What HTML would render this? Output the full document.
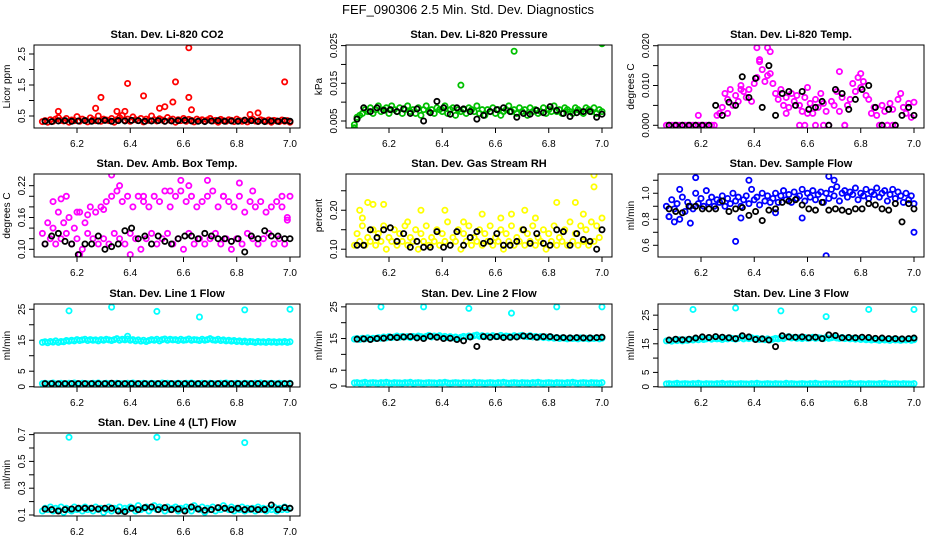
<!DOCTYPE html>
<html><head><meta charset="utf-8"><style>
html,body{margin:0;padding:0;background:#fff}
svg{display:block}
text{font-family:"Liberation Sans",sans-serif;fill:#000}
</style></head><body>
<svg id="chart" width="936" height="540" viewBox="0 0 936 540" xmlns="http://www.w3.org/2000/svg">
<rect x="0" y="0" width="936" height="540" fill="#fff"/>
<text x="468" y="14" text-anchor="middle" font-size="13">FEF_090306  2.5 Min. Std. Dev. Diagnostics</text>
</svg>
<script>
const tx=[6.07,6.08,6.09,6.10,6.11,6.12,6.13,6.14,6.15,6.16,6.17,6.18,6.19,6.20,6.21,6.22,6.23,6.24,6.25,6.26,6.27,6.28,6.29,6.30,6.31,6.32,6.33,6.34,6.35,6.36,6.37,6.38,6.39,6.40,6.41,6.42,6.43,6.44,6.45,6.46,6.47,6.48,6.49,6.50,6.51,6.52,6.53,6.54,6.55,6.56,6.57,6.58,6.59,6.60,6.61,6.62,6.63,6.64,6.65,6.66,6.67,6.68,6.69,6.70,6.71,6.72,6.73,6.74,6.75,6.76,6.77,6.78,6.79,6.80,6.81,6.82,6.83,6.84,6.85,6.86,6.87,6.88,6.89,6.90,6.91,6.92,6.93,6.94,6.95,6.96,6.97,6.98,6.99,7.00];
const bx=[6.08,6.105,6.13,6.155,6.18,6.205,6.23,6.255,6.28,6.305,6.33,6.355,6.38,6.405,6.43,6.455,6.48,6.505,6.53,6.555,6.58,6.605,6.63,6.655,6.68,6.705,6.73,6.755,6.78,6.805,6.83,6.855,6.88,6.905,6.93,6.955,6.98,7.0];
const xTicks=[6.2,6.4,6.6,6.8,7.0];
const xTickLabels=["6.2","6.4","6.6","6.8","7.0"];

// P1 CO2
const co2Main=[0.32,0.35,0.3,0.38,0.33,0.4,0.45,0.36,0.34,0.42,0.3,0.37,0.35,0.48,0.33,0.4,0.36,0.31,0.44,0.38,0.35,0.5,0.33,0.4,0.37,0.35,0.42,0.3,0.38,0.45,0.52,0.36,0.4,0.33,0.47,0.38,0.35,0.42,0.31,0.4,0.36,0.5,0.38,0.34,0.41,0.37,0.33,0.45,0.36,0.4,0.3,0.38,0.35,0.42,0.33,0.39,0.36,0.31,0.4,0.35,0.38,0.33,0.37,0.42,0.34,0.36,0.3,0.39,0.35,0.33,0.38,0.36,0.32,0.4,0.35,0.33,0.37,0.31,0.36,0.4,0.34,0.32,0.38,0.35,0.33,0.37,0.3,0.36,0.34,0.32,0.37,0.33,0.35,0.3];
const co2OutX=[6.13,6.27,6.29,6.35,6.38,6.39,6.45,6.51,6.53,6.56,6.57,6.62,6.62,6.63,6.85,6.88,6.98];
const co2OutY=[0.65,0.75,1.1,0.65,0.65,1.55,1.15,0.75,0.8,0.95,1.6,1.1,2.7,0.7,0.55,0.6,1.6];
const co2Black=[0.33,0.32,0.34,0.35,0.33,0.34,0.35,0.33,0.34,0.36,0.33,0.35,0.34,0.36,0.35,0.33,0.34,0.35,0.33,0.34,0.35,0.36,0.34,0.33,0.32,0.34,0.35,0.33,0.34,0.33,0.36,0.35,0.33,0.32,0.34,0.33,0.35,0.33];
// P2 pressure
const presMain=[0.004,0.006,0.0065,0.007,0.008,0.0075,0.0085,0.007,0.008,0.009,0.0075,0.008,0.0085,0.007,0.009,0.008,0.0075,0.0085,0.007,0.008,0.009,0.0075,0.008,0.007,0.0085,0.0065,0.008,0.009,0.0075,0.008,0.007,0.0085,0.008,0.0075,0.009,0.007,0.008,0.0085,0.0065,0.008,0.0075,0.008,0.007,0.0085,0.008,0.0075,0.009,0.007,0.008,0.0065,0.008,0.0075,0.0085,0.007,0.008,0.0065,0.0075,0.008,0.009,0.0075,0.008,0.007,0.0085,0.0075,0.008,0.0065,0.0085,0.0075,0.008,0.007,0.0075,0.0085,0.007,0.008,0.0075,0.009,0.0075,0.008,0.007,0.0085,0.008,0.0075,0.007,0.0085,0.008,0.0075,0.007,0.0085,0.008,0.0075,0.0085,0.007,0.008,0.0075];
const presOutX=[6.07,6.33,6.47,6.67,7.0];
const presOutY=[0.0032,0.026,0.0145,0.0235,0.0255];
const presBlack=[0.0055,0.0085,0.0075,0.0085,0.0078,0.008,0.0075,0.0082,0.007,0.0082,0.005,0.0072,0.0102,0.0085,0.0068,0.0085,0.0082,0.0075,0.0055,0.0065,0.0075,0.008,0.0085,0.0075,0.006,0.007,0.0068,0.0078,0.0072,0.0088,0.0078,0.007,0.0062,0.0072,0.0075,0.0075,0.006,0.0068];
// P3 Li-820 temp
const tempMain=[0,0,0,0,0,0,0,0,0,0,0,0,0,0,0,0,0,0,0,0.0025,0.003,0.0045,0.008,0.0065,0.009,0.005,0.0075,0.006,0.01,0.0085,0.007,0.009,0.006,0.0105,0.012,0.016,0.014,0.011,0.0125,0.013,0.0105,0.008,0.0065,0.009,0.005,0.007,0.0045,0.008,0.006,0.0075,0.005,0.0035,0.007,0.0095,0.0055,0.003,0.0065,0.0045,0.008,0.0055,0.0035,0,0.006,0.005,0.0085,0.0035,0.007,0,0.005,0.0065,0.0105,0.0085,0.012,0.0095,0.011,0.0075,0.0065,0.003,0.0045,0.0025,0,0.005,0.0035,0,0.0055,0.004,0,0.0065,0.008,0.0045,0.003,0.0055,0.002,0.0058];
const tempOutX=[6.19,6.41,6.42,6.45,6.46,6.72,6.63,6.57,6.59,6.66,6.74,6.88,6.9,6.92,6.3,6.35,6.52,6.6,6.8];
const tempOutY=[0.0025,0.0195,0.0165,0.0195,0.0185,0.0135,0,0,0,0,0,0,0,0,0.003,0.009,0.003,0.003,0.013];
const tempBlack=[0,0,0,0,0,0,0,0.005,0.0025,0.0058,0.005,0.0122,0.007,0.0118,0.0045,0.015,0.0025,0.008,0.0085,0.005,0.0085,0.004,0.0045,0.006,0,0.009,0.008,0.004,0.0065,0.009,0.01,0.0045,0,0.004,0,0.0025,0.0045,0.0025];
// P4 amb box temp
const ambMain=[0.13,0.11,0.15,0.12,0.14,0.11,0.17,0.12,0.15,0.13,0.16,0.11,0.14,0.12,0.17,0.10,0.15,0.13,0.18,0.12,0.17,0.11,0.18,0.12,0.19,0.11,0.2,0.13,0.21,0.12,0.19,0.11,0.2,0.13,0.18,0.12,0.2,0.10,0.19,0.12,0.18,0.13,0.2,0.11,0.19,0.12,0.21,0.13,0.18,0.11,0.2,0.12,0.21,0.1,0.19,0.13,0.2,0.11,0.18,0.12,0.19,0.11,0.2,0.12,0.21,0.13,0.18,0.11,0.2,0.12,0.19,0.1,0.18,0.12,0.2,0.11,0.17,0.13,0.19,0.12,0.18,0.11,0.19,0.12,0.17,0.13,0.18,0.11,0.19,0.12,0.18,0.11,0.16,0.2];
const ambOutX=[6.11,6.14,6.16,6.2,6.33,6.59,6.69,6.81,6.97,6.99,6.21,6.40,6.36,6.45,6.55,6.62,6.75,6.86,6.24,6.3];
const ambOutY=[0.19,0.195,0.2,0.17,0.24,0.23,0.23,0.225,0.2,0.155,0.09,0.09,0.22,0.2,0.21,0.22,0.2,0.21,0.165,0.175];
const ambBlack=[0.11,0.125,0.13,0.115,0.11,0.09,0.11,0.11,0.125,0.1,0.105,0.11,0.135,0.14,0.12,0.125,0.11,0.125,0.115,0.11,0.12,0.125,0.125,0.12,0.13,0.125,0.12,0.12,0.115,0.12,0.095,0.125,0.12,0.135,0.125,0.125,0.12,0.12];
// P5 RH
const rhMain=[0.11,0.14,0.12,0.16,0.11,0.13,0.12,0.15,0.11,0.14,0.12,0.16,0.10,0.13,0.12,0.15,0.11,0.14,0.12,0.16,0.11,0.13,0.12,0.15,0.10,0.14,0.12,0.16,0.11,0.13,0.12,0.15,0.11,0.14,0.12,0.17,0.11,0.13,0.12,0.15,0.10,0.14,0.12,0.16,0.11,0.13,0.12,0.15,0.11,0.14,0.12,0.16,0.11,0.13,0.12,0.15,0.10,0.14,0.12,0.16,0.11,0.13,0.12,0.15,0.11,0.14,0.12,0.16,0.11,0.13,0.12,0.15,0.10,0.14,0.12,0.16,0.11,0.13,0.12,0.15,0.11,0.17,0.12,0.14,0.11,0.16,0.12,0.15,0.11,0.17,0.12,0.16,0.13,0.18];
const rhOutX=[6.09,6.12,6.14,6.18,6.32,6.41,6.55,6.62,6.66,6.71,6.83,6.90,6.97,6.97,6.1,6.27,6.48,6.75,6.93];
const rhOutY=[0.2,0.22,0.215,0.215,0.2,0.2,0.19,0.18,0.19,0.2,0.22,0.22,0.29,0.26,0.18,0.17,0.17,0.18,0.19];
const rhBlack=[0.11,0.11,0.15,0.13,0.15,0.155,0.12,0.14,0.105,0.12,0.105,0.105,0.145,0.105,0.11,0.145,0.11,0.13,0.145,0.115,0.12,0.14,0.11,0.11,0.12,0.15,0.115,0.14,0.115,0.11,0.15,0.145,0.11,0.14,0.125,0.12,0.1,0.15];
// P6 sample flow
const flowMain=[0.9,0.82,0.95,0.88,0.92,0.8,0.97,0.86,0.93,0.9,0.88,1.0,0.92,0.96,0.9,1.02,0.93,0.97,0.9,0.95,0.93,0.98,0.9,0.96,0.92,1.0,0.94,0.97,0.9,0.95,0.98,0.92,1.03,0.95,0.97,0.91,1.0,0.94,0.98,0.93,0.96,1.0,0.93,0.98,1.02,0.95,0.99,0.93,1.01,0.96,0.98,1.03,0.94,1.0,0.97,1.02,0.95,0.99,1.01,0.93,1.0,0.96,1.03,0.98,1.05,0.94,1.0,1.02,0.97,1.01,0.99,1.04,0.95,1.0,0.98,1.03,0.96,1.01,0.99,1.04,0.97,1.0,1.02,0.94,0.99,1.03,0.96,1.01,0.98,0.93,1.0,0.95,0.98,0.92];
const flowOutX=[6.1,6.18,6.33,6.38,6.67,6.68,6.7,7.0,6.16,6.58,6.08,6.12,6.35,6.48];
const flowOutY=[0.78,1.12,0.63,1.1,0.52,1.13,1.1,0.7,0.77,0.81,0.82,1.03,0.81,0.85];
const flowBlack=[0.88,0.86,0.85,0.9,0.9,0.88,0.88,0.88,0.94,0.86,0.88,0.89,0.83,0.86,0.79,0.87,0.88,0.93,0.94,0.95,0.91,0.88,0.87,0.93,0.87,0.88,0.87,0.86,0.88,0.88,0.92,0.91,0.88,0.87,0.92,0.78,0.92,0.88];
// P7 line 1
const l1Upper=[14.3,14.5,14.2,14.6,14.4,14.8,14.3,14.6,14.5,14.9,14.7,15.0,14.8,15.2,14.9,15.1,15.3,14.9,15.2,15.0,15.1,14.8,15.2,15.0,15.3,15.1,14.9,15.2,15.5,15.0,15.3,15.1,15.4,15.0,15.2,14.8,15.1,14.7,15.0,14.6,14.9,15.2,15.0,15.3,14.8,15.2,15.4,15.0,15.3,15.1,15.2,14.9,15.3,15.0,15.1,15.4,15.0,15.2,15.1,14.9,15.3,15.0,15.2,15.5,15.1,15.0,15.3,14.9,15.1,14.8,15.0,14.7,14.9,14.6,14.8,14.5,14.7,14.4,14.6,14.5,14.3,14.6,14.4,14.5,14.3,14.6,14.4,14.5,14.3,14.5,14.4,14.6,14.3,14.5];
const l1Lower=[1.0,1.1,0.9,1.0,1.2,0.9,1.0,1.1,1.0,0.9,1.1,1.0,1.2,1.0,0.9,1.1,1.0,1.0,0.9,1.1,1.0,1.2,0.9,1.0,1.1,1.0,0.9,1.0,1.1,1.0,1.0,0.9,1.1,1.0,1.2,1.0,0.9,1.0,1.1,1.0,0.9,1.1,1.0,1.0,0.9,1.2,1.0,1.1,1.0,0.9,1.0,1.1,1.0,0.9,1.1,1.0,1.2,1.0,0.9,1.0,1.1,1.0,0.9,1.1,1.0,1.0,0.9,1.1,1.0,1.2,1.0,0.9,1.0,1.1,1.0,0.9,1.1,1.0,1.0,0.9,1.1,1.0,1.2,1.0,0.9,1.0,1.1,1.0,0.9,1.1,1.0,1.0,0.9,1.1];
const l1OutX=[6.17,6.33,6.5,6.66,6.83,7.0,6.39];
const l1OutY=[24.5,25.7,24.3,22.5,24.8,25,16.3];
const l1Black=[1.0,1.0,0.9,1.0,1.0,1.0,1.0,1.0,1.0,1.0,1.1,1.0,1.0,1.0,1.0,1.0,1.0,1.0,1.0,1.0,1.0,1.0,1.0,1.0,1.0,1.0,1.0,1.0,1.0,1.0,1.0,1.0,1.0,1.0,1.0,0.9,1.0,1.0];
// P8 line 2
const l2Upper=[14.8,15.0,14.7,15.1,14.9,15.2,14.8,15.1,15.0,15.3,15.1,15.5,15.2,15.6,15.3,15.5,15.8,15.4,15.7,15.5,15.6,15.3,15.7,15.5,15.8,15.6,15.4,15.7,16.0,15.5,15.8,15.6,15.9,15.5,15.7,15.3,15.6,15.2,15.5,15.1,15.4,15.7,15.5,15.8,15.6,15.9,16.1,15.7,15.9,15.6,15.8,15.5,15.9,15.6,15.7,16.0,15.6,15.8,15.7,15.5,15.9,15.6,15.8,16.0,15.7,15.6,15.9,15.5,15.7,15.4,15.6,15.3,15.5,15.2,15.4,15.1,15.3,15.0,15.2,15.1,14.9,15.2,15.0,15.1,14.9,15.2,15.0,15.1,14.9,15.1,15.0,15.2,14.9,15.1];
const l2Lower=[1.0,1.1,0.9,1.0,1.2,0.9,1.0,1.1,1.0,0.9,1.1,1.0,1.2,1.0,0.9,1.1,1.0,1.0,0.9,1.1,1.0,1.2,0.9,1.0,1.1,1.0,0.9,1.0,1.1,1.0,1.0,0.9,1.1,1.0,1.2,1.0,0.9,1.0,1.1,1.0,0.9,1.1,1.0,1.0,0.9,1.2,1.0,1.1,1.0,0.9,1.0,1.1,1.0,0.9,1.1,1.0,1.2,1.0,0.9,1.0,1.1,1.0,0.9,1.1,1.0,1.0,0.9,1.1,1.0,1.2,1.0,0.9,1.0,1.1,1.0,0.9,1.1,1.0,1.0,0.9,1.1,1.0,1.2,1.0,0.9,1.0,1.1,1.0,0.9,1.1,1.0,1.0,0.9,1.1];
const l2OutX=[6.17,6.33,6.5,6.66,6.83,7.0];
const l2OutY=[25,25,24.5,23,25,25];
const l2Black=[14.8,14.9,14.7,15.0,15.1,15.4,15.3,15.5,15.6,15.2,15.0,15.7,15.4,15.0,15.1,14.7,14.3,15.5,12.5,15.6,15.4,15.6,15.3,15.4,15.5,15.8,15.7,15.4,15.6,15.6,15.3,15.3,15.2,15.3,15.2,15.2,15.3,15.4];
// P9 line 3
const l3Upper=[16.0,16.2,15.9,16.3,16.1,16.4,16.0,16.3,16.2,16.5,16.3,16.7,16.4,16.8,16.5,16.7,17.0,16.6,16.9,16.7,16.8,16.5,16.9,16.7,17.0,16.8,16.6,16.9,17.2,16.7,17.0,16.8,17.1,16.7,16.9,16.5,16.8,16.4,16.7,16.3,16.6,16.9,16.7,17.0,16.8,17.3,17.5,17.0,17.2,16.9,17.1,16.8,17.2,16.9,17.0,17.3,16.9,17.1,17.0,16.8,17.2,16.9,17.1,17.3,17.0,16.9,17.2,16.8,17.0,16.7,16.9,16.6,16.8,16.5,16.7,16.4,16.6,16.3,16.5,16.4,16.2,16.5,16.3,16.4,16.2,16.5,16.3,16.4,16.2,16.4,16.3,16.5,16.2,16.4];
const l3Lower=[1.0,1.1,0.9,1.0,1.2,0.9,1.0,1.1,1.0,0.9,1.1,1.0,1.2,1.0,0.9,1.1,1.0,1.0,0.9,1.1,1.0,1.2,0.9,1.0,1.1,1.0,0.9,1.0,1.1,1.0,1.0,0.9,1.1,1.0,1.2,1.0,0.9,1.0,1.1,1.0,0.9,1.1,1.0,1.0,0.9,1.2,1.0,1.1,1.0,0.9,1.0,1.1,1.0,0.9,1.1,1.0,1.2,1.0,0.9,1.0,1.1,1.0,0.9,1.1,1.0,1.0,0.9,1.1,1.0,1.2,1.0,0.9,1.0,1.1,1.0,0.9,1.1,1.0,1.0,0.9,1.1,1.0,1.2,1.0,0.9,1.0,1.1,1.0,0.9,1.1,1.0,1.0,0.9,1.1];
const l3OutX=[6.17,6.33,6.5,6.67,6.83,7.0];
const l3OutY=[27,27.5,26.5,24.5,27,27];
const l3Black=[16.3,16.6,16.4,16.6,17.0,17.4,17.2,17.5,17.3,17.1,16.8,17.8,17.4,16.5,16.7,16.3,14.0,17.8,17.4,17.3,17.4,17.1,17.3,16.8,18.1,17.9,17.1,17.2,17.1,17.3,17.2,16.9,17.0,16.8,16.8,16.7,16.8,17.0];
// P10 line 4
const l4Main=[0.13,0.15,0.14,0.16,0.13,0.15,0.14,0.16,0.12,0.15,0.14,0.13,0.16,0.14,0.15,0.13,0.16,0.14,0.15,0.13,0.16,0.14,0.15,0.12,0.14,0.16,0.13,0.15,0.14,0.16,0.13,0.15,0.14,0.16,0.15,0.13,0.17,0.14,0.15,0.16,0.13,0.15,0.17,0.14,0.16,0.15,0.13,0.16,0.14,0.15,0.16,0.13,0.15,0.14,0.16,0.15,0.13,0.17,0.15,0.14,0.16,0.12,0.15,0.14,0.16,0.13,0.15,0.14,0.17,0.15,0.14,0.16,0.13,0.15,0.14,0.16,0.13,0.15,0.14,0.15,0.13,0.16,0.14,0.15,0.13,0.15,0.14,0.16,0.13,0.15,0.14,0.16,0.14,0.15];
const l4OutX=[6.17,6.5,6.83];
const l4OutY=[0.68,0.68,0.64];
const l4Black=[0.145,0.14,0.13,0.14,0.145,0.15,0.15,0.15,0.145,0.15,0.15,0.13,0.125,0.15,0.14,0.155,0.16,0.14,0.155,0.14,0.145,0.13,0.16,0.145,0.135,0.14,0.155,0.15,0.14,0.15,0.14,0.145,0.14,0.14,0.175,0.14,0.155,0.15];

const yTicks1=[0.5,1,1.5,2,2.5], yLab1=["0.5","","1.5","","2.5"];
const yTicks2=[0.005,0.01,0.015,0.02,0.025], yLab2=["0.005","","0.015","","0.025"];
const yTicks3=[0,0.005,0.01,0.015,0.02], yLab3=["0.000","","0.010","","0.020"];
const yTicks4=[0.1,0.12,0.14,0.16,0.18,0.2,0.22], yLab4=["0.10","","","0.16","","","0.22"];
const yTicks5=[0.1,0.15,0.2,0.25], yLab5=["0.10","","0.20",""];
const yTicks6=[0.6,0.7,0.8,0.9,1.0,1.1], yLab6=["0.6","","0.8","","1.0",""];
const yTicksL=[0,5,10,15,20,25], yLabL=["0","5","","15","","25"];
const yTicks10=[0.1,0.2,0.3,0.4,0.5,0.6,0.7], yLab10=["0.1","","0.3","","0.5","","0.7"];

const NS="http://www.w3.org/2000/svg";
const svg=document.getElementById('chart');
const colL=[34,346,658], rowT=[45,174,304,433], W=266, H=83;
const XMIN=6.0385, XMAX=7.0376;
function el(tag,attrs,parent){const e=document.createElementNS(NS,tag);for(const k in attrs)e.setAttribute(k,attrs[k]);(parent||svg).appendChild(e);return e;}

function panel(id,col,row,title,ytitle,ymin,ymax,yt,yl,series){
  const L=colL[col],T=rowT[row];
  const g=el('g',{});
  
  
  const sx=v=>L+(v-XMIN)/(XMAX-XMIN)*W;
  const sy=v=>T+H-(v-ymin)/(ymax-ymin)*H;
  const t=el('text',{x:L+W/2,y:T-7,'text-anchor':'middle','font-size':'11','font-weight':'bold'},g);
  t.textContent=title;
  
  
  const yt2=el('text',{transform:`translate(${L-24},${T+H/2}) rotate(-90)`,'text-anchor':'middle','font-size':'10'},g);
  yt2.textContent=ytitle;
  
  
  xTicks.forEach((v,i)=>{
    const x=sx(v);
    el('line',{x1:x,x2:x,y1:T+H,y2:T+H+5,stroke:'#000','stroke-width':1},g);
    const lt=el('text',{x:x,y:T+H+19,'text-anchor':'middle','font-size':'10'},g);
    lt.textContent=xTickLabels[i];
    
    
  });
  yt.forEach((v,i)=>{
    const y=sy(v);
    el('line',{x1:L-5,x2:L,y1:y,y2:y,stroke:'#000','stroke-width':1},g);
    if(yl[i]){
      const lt=el('text',{transform:`translate(${L-9},${y}) rotate(-90)`,'text-anchor':'middle','font-size':'10'},g);
      lt.textContent=yl[i];
      
      
    }
  });
  const clipId='c'+id;
  const cp=el('clipPath',{id:clipId},g);
  el('rect',{x:L,y:T,width:W,height:H},cp);
  const pg=el('g',{'clip-path':`url(#${clipId})`},g);
  series.forEach(s=>{
    const n=Math.min(s.x.length,s.y.length);
    for(let i=0;i<n;i++){
      const c=el('circle',{cx:sx(s.x[i]),cy:sy(s.y[i]),r:2.6,fill:'none',stroke:s.c,'stroke-width':1.8},pg);
      
      
    }
  });
  const box=el('rect',{x:L,y:T,width:W,height:H,fill:'none',stroke:'#000','stroke-width':1},g);
  
  
}
const R='#ff0000',G='#00c000',M='#ff00ff',Y='#ffff00',B='#0000ff',C='#00ffff',K='#000';
panel('co2',0,0,'Stan. Dev. Li-820 CO2','Licor ppm',0.113,2.79,yTicks1,yLab1,[{x:tx,y:co2Main,c:R,n:'co2-point'},{x:co2OutX,y:co2OutY,c:R,n:'co2-point'},{x:bx,y:co2Black,c:K,n:'co2-avg-point'}]);
panel('pressure',1,0,'Stan. Dev. Li-820 Pressure','kPa',0.00314,0.02516,yTicks2,yLab2,[{x:tx,y:presMain,c:G,n:'pressure-point'},{x:presOutX,y:presOutY,c:G,n:'pressure-point'},{x:bx,y:presBlack,c:K,n:'pressure-avg-point'}]);
panel('li820temp',2,0,'Stan. Dev. Li-820 Temp.','degrees C',-0.00068,0.02018,yTicks3,yLab3,[{x:tx,y:tempMain,c:M,n:'temp-point'},{x:tempOutX,y:tempOutY,c:M,n:'temp-point'},{x:bx,y:tempBlack,c:K,n:'temp-avg-point'}]);
panel('ambbox',0,1,'Stan. Dev. Amb. Box Temp.','degrees C',0.0855,0.242,yTicks4,yLab4,[{x:tx,y:ambMain,c:M,n:'amb-point'},{x:ambOutX,y:ambOutY,c:M,n:'amb-point'},{x:bx,y:ambBlack,c:K,n:'amb-avg-point'}]);
panel('rh',1,1,'Stan. Dev. Gas Stream RH','percent',0.080,0.293,yTicks5,yLab5,[{x:tx,y:rhMain,c:Y,n:'rh-point'},{x:rhOutX,y:rhOutY,c:Y,n:'rh-point'},{x:bx,y:rhBlack,c:K,n:'rh-avg-point'}]);
panel('sampleflow',2,1,'Stan. Dev. Sample Flow','ml/min',0.51,1.148,yTicks6,yLab6,[{x:tx,y:flowMain,c:B,n:'flow-point'},{x:flowOutX,y:flowOutY,c:B,n:'flow-point'},{x:bx,y:flowBlack,c:K,n:'flow-avg-point'}]);
panel('line1',0,2,'Stan. Dev. Line 1 Flow','ml/min',-0.1,26.7,yTicksL,yLabL,[{x:tx,y:l1Upper,c:C,n:'line1-point'},{x:tx,y:l1Lower,c:C,n:'line1-point'},{x:l1OutX,y:l1OutY,c:C,n:'line1-point'},{x:bx,y:l1Black,c:K,n:'line1-avg-point'}]);
panel('line2',1,2,'Stan. Dev. Line 2 Flow','ml/min',-0.3,25.9,yTicksL,yLabL,[{x:tx,y:l2Upper,c:C,n:'line2-point'},{x:tx,y:l2Lower,c:C,n:'line2-point'},{x:l2OutX,y:l2OutY,c:C,n:'line2-point'},{x:bx,y:l2Black,c:K,n:'line2-avg-point'}]);
panel('line3',2,2,'Stan. Dev. Line 3 Flow','ml/min',-0.1,28.9,yTicksL,yLabL,[{x:tx,y:l3Upper,c:C,n:'line3-point'},{x:tx,y:l3Lower,c:C,n:'line3-point'},{x:l3OutX,y:l3OutY,c:C,n:'line3-point'},{x:bx,y:l3Black,c:K,n:'line3-avg-point'}]);
panel('line4',0,3,'Stan. Dev. Line 4 (LT) Flow','ml/min',0.0925,0.712,yTicks10,yLab10,[{x:tx,y:l4Main,c:C,n:'line4-point'},{x:l4OutX,y:l4OutY,c:C,n:'line4-point'},{x:bx,y:l4Black,c:K,n:'line4-avg-point'}]);
</script>
</body></html>
